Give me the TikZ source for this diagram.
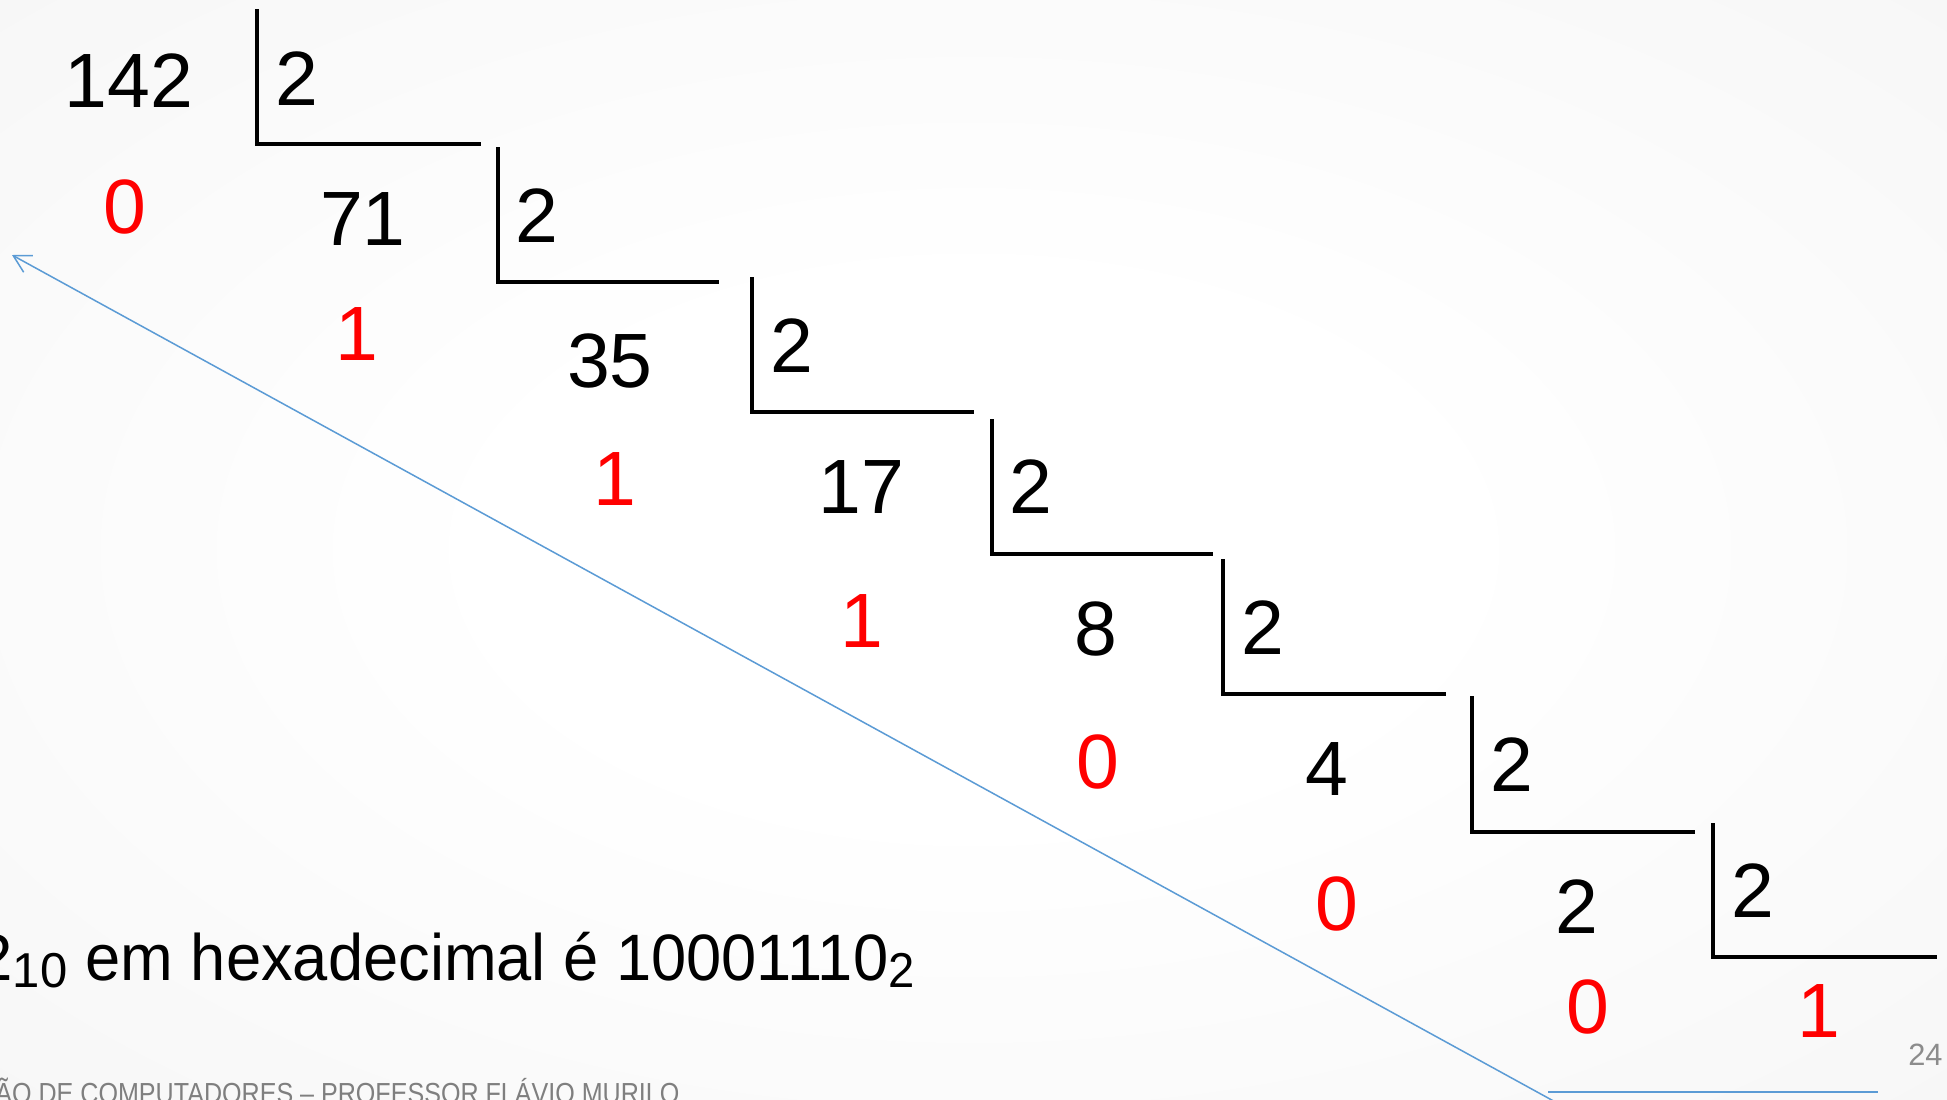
\documentclass[tikz,border=0pt]{standalone}
\usepackage{fontspec}
\setmainfont{Liberation Sans}
\usepackage{graphicx}
\usetikzlibrary{arrows.meta}
\definecolor{slideblue}{HTML}{5B9BD5}
\definecolor{remred}{HTML}{FF0000}
\definecolor{footgray}{HTML}{7F7F7F}
\definecolor{pagegray}{HTML}{8C8C8C}
\pgfdeclareradialshading{slidebg}{\pgfpoint{0bp}{0bp}}{color(0bp)=(white); color(12bp)=(white); color(50bp)=(black!5); color(71bp)=(black!9)}
\newcommand{\lowsub}[1]{\raisebox{-3.5pt}{\fontsize{24.5pt}{25pt}\selectfont #1}}
\begin{document}
\begin{tikzpicture}[x=0.5pt,y=-0.5pt,
  num/.style={anchor=base, inner sep=0pt, font=\fontsize{38.5pt}{40pt}\selectfont},
  quot/.style={num, text=black},
  rem/.style={num, text=remred},
  divbar/.style={line width=1.6pt, black},
  arrowline/.style={slideblue, line width=0.75pt, -{Straight Barb[length=8.5pt,width=9.5pt]}},
  footline/.style={slideblue, line width=1pt}]
\useasboundingbox (0,0) rectangle (1947,1099);
\shade[shading=slidebg] (0,0) rectangle (1947,1099);
\clip (0,0) rectangle (1947,1099);

% division brackets
\draw[divbar] (257,9) -- (257,144) -- (481,144);
\draw[divbar] (498,147) -- (498,282) -- (719,282);
\draw[divbar] (752,277) -- (752,412) -- (974,412);
\draw[divbar] (992,419) -- (992,554) -- (1213,554);
\draw[divbar] (1223,559) -- (1223,694) -- (1446,694);
\draw[divbar] (1472,696) -- (1472,832) -- (1695,832);
\draw[divbar] (1713,823) -- (1713,957) -- (1937,957);

% dividends / quotients
\node[quot] (q142) at (129,107) {142};
\node[quot] (q71)  at (363,245) {71};
\node[quot] (q35)  at (610,387) {35};
\node[quot] (q17)  at (861,513) {17};
\node[quot] (q8)   at (1096,655) {8};
\node[quot] (q4)   at (1327,795) {4};
\node[quot] (q2)   at (1577,933) {2};

% divisors
\node[quot] (d1) at (297,105) {2};
\node[quot] (d2) at (537,242) {2};
\node[quot] (d3) at (792,372) {2};
\node[quot] (d4) at (1031,513) {2};
\node[quot] (d5) at (1263,654) {2};
\node[quot] (d6) at (1512,791) {2};
\node[quot] (d7) at (1753,917) {2};

% remainders
\node[rem] (r1) at (125,233) {0};
\node[rem] (r2) at (357,360) {1};
\node[rem] (r3) at (615,505) {1};
\node[rem] (r4) at (862,647) {1};
\node[rem] (r5) at (1098,788) {0};
\node[rem] (r6) at (1337,930) {0};
\node[rem] (r7) at (1588,1033) {0};
\node[rem] (r8) at (1819,1037) {1};

% reading arrow
\coordinate (arrowstart) at (1590,1121);
\coordinate (arrowtip) at (12,255);
\draw[arrowline] (arrowstart) -- (arrowtip);

% result text
\node[anchor=base west, inner sep=0pt, font=\fontsize{32.8pt}{34pt}\selectfont] (result) at (-24,980)
  {2\lowsub{10} \resizebox{414.5pt}{\height}{em hexadecimal é 10001110\lowsub{2}}};

% footer
\node[anchor=base west, inner sep=0pt, text=footgray, font=\fontsize{14.5pt}{15pt}\selectfont] (footer) at (-5,1103)
  {\resizebox{342pt}{\height}{ÃO DE COMPUTADORES – PROFESSOR FLÁVIO MURILO}};
\node[anchor=base east, inner sep=0pt, text=pagegray, font=\fontsize{15.4pt}{16pt}\selectfont] (pagenum) at (1943,1065) {24};
\coordinate (footL) at (1548,1092);
\coordinate (footR) at (1878,1092);
\draw[footline] (footL) -- (footR);
\end{tikzpicture}
\end{document}
